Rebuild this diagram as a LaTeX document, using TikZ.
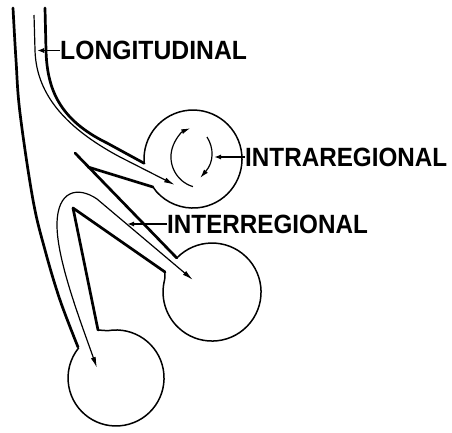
\documentclass[tikz,border=0pt]{standalone}
\usepackage{fontspec}
\setmainfont{Liberation Sans}
\usetikzlibrary{arrows.meta}
\begin{document}
\begin{tikzpicture}[x=1pt,y=1pt,
  wall/.style={line width=2.7pt, line join=round, line cap=round},
  circ/.style={line width=1.5pt, line join=round},
  flow/.style={line width=1.2pt, -{Latex[length=11pt,width=5pt]}},
  flowboth/.style={line width=1.2pt, {Latex[length=11pt,width=5pt]}-{Latex[length=11pt,width=5pt]}},
  swirl/.style={line width=1.2pt, -{Latex[length=9pt,width=5pt]}},
  ptr/.style={line width=1.6pt, -{Latex[length=7pt,width=5pt]}},
  lbl/.style={inner sep=0pt, anchor=west, font=\bfseries\fontsize{24}{24}\selectfont}]
\useasboundingbox (0,0) rectangle (452,-432);

% outer left wall
\draw[wall] plot[smooth, tension=0.6] coordinates {(13,-8) (16,-60) (20,-113) (33,-200) (45,-250) (60,-300) (78,-347)};

% longitudinal channel, inner wall and first region
\draw[wall] (45,-8) -- (46,-50) .. controls (47,-90) and (60,-120) .. (107,-143) -- (144.2,-163.3);
\draw[circ] (144.2,-163.3) arc[start angle=185, end angle=-138, radius=49] -- (153,-187);

% wedge 1
\draw[wall] (153,-187) -- (88,-167);
\draw[wall] (75,-153) -- (176.8,-258);

% middle region
\draw[circ] (176.8,-258) arc[start angle=136, end angle=-195, radius=49] -- (165,-272);

% wedge 2
\draw[wall] (165,-272) -- (73,-208) -- (98,-330);

% bottom region
\draw[circ] (98,-330) -- (107.7,-330.7) arc[start angle=100, end angle=-219, radius=48];

% flows
\draw[flow] (34,-15) -- (35,-50) .. controls (36,-90) and (60,-125) .. (120,-157) -- (175,-185);
\draw[flowboth] (193,-280) -- (97,-199) .. controls (78,-186) and (57,-190) .. (57,-225) .. controls (57,-260) and (80,-320) .. (97,-368);

% intraregional swirl
\draw[swirl] (192.9,-186.6) arc[start angle=-107, end angle=-248, radius=31];
\draw[swirl] (207,-137) .. controls (214,-148) and (214,-162) .. (200,-178);

% labels
\node[lbl] (lon) at (60,-50.5) {\scalebox{1.03}[1.1]{LONGITUDINAL}};
\node[lbl] (intra) at (245,-157) {\scalebox{1.01}[1.1]{INTRAREGIONAL}};
\node[lbl] (inter) at (167,-224) {\scalebox{1.01}[1.1]{INTERREGIONAL}};
\coordinate (lontip) at (37,-50.5);
\coordinate (intratip) at (214,-157);
\coordinate (intertip) at (127,-224);
\draw[ptr] (lon.west) -- (lontip);
\draw[ptr] (intra.west) -- (intratip);
\draw[ptr] (inter.west) -- (intertip);
\end{tikzpicture}
\end{document}
